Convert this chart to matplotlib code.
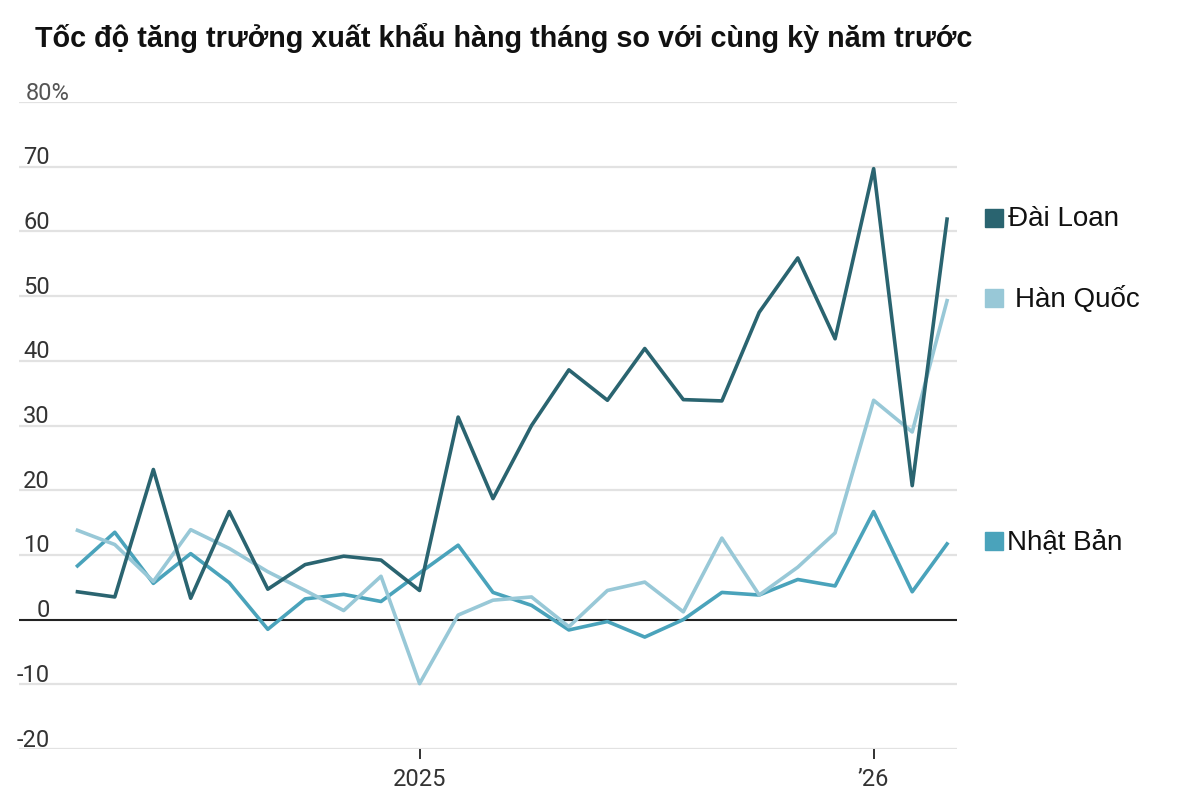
import matplotlib
matplotlib.use("Agg")
import matplotlib.pyplot as plt
import pandas as pd
import datetime as dt

# monthly, Apr 2024 .. Mar 2026
months = pd.date_range("2024-04-01", periods=24, freq="MS")

dai_loan = [4.3, 3.5, 23.2, 3.3, 16.7, 4.7, 8.5, 9.8, 9.2, 4.5,
            31.3, 18.7, 30.0, 38.6, 33.9, 41.9, 34.0, 33.8, 47.5, 55.9,
            43.4, 69.7, 20.7, 61.9]
han_quoc = [13.8, 11.6, 5.9, 13.9, 11.0, 7.4, 4.5, 1.4, 6.7, -9.9,
            0.7, 3.0, 3.5, -1.1, 4.5, 5.8, 1.2, 12.6, 3.8, 8.1,
            13.4, 33.9, 29.0, 49.3]
nhat_ban = [8.3, 13.5, 5.6, 10.2, 5.7, -1.5, 3.2, 3.9, 2.8, 7.2,
            11.5, 4.2, 2.2, -1.6, -0.3, -2.7, 0.0, 4.2, 3.8, 6.2,
            5.2, 16.7, 4.3, 11.7]

series = [
    ("Đài Loan", dai_loan, "#2a6470"),
    ("Hàn Quốc", han_quoc, "#98c8d7"),
    ("Nhật Bản", nhat_ban, "#4aa3bb"),
]
y_ticks = [-20, -10, 0, 10, 20, 30, 40, 50, 60, 70, 80]
y_labels = ["-20", "-10", "0", "10", "20", "30", "40", "50", "60", "70", "80%"]
x_ticks = [dt.datetime(2025, 1, 1), dt.datetime(2026, 1, 1)]
x_labels = ["2025", "\u201926"]

tick_font = ["Roboto", "DejaVu Sans"]
helv = ["Liberation Sans", "DejaVu Sans"]

fig = plt.figure(figsize=(12, 8.12), dpi=100)
ax = fig.add_axes([19 / 1200, 1 - 750 / 812, (957 - 19) / 1200, (750 - 103) / 812])

for val in y_ticks:
    if val == 0:
        continue
    ax.axhline(val, color="#e2e2e2", lw=1.6, zorder=1)
ax.axhline(0, color="#222222", lw=1.5, zorder=2)

for name, vals, col in series[::-1]:
    ax.plot(months, vals, color=col, lw=2.6, zorder=3)

ax.set_ylim(-20, 80)
ax.set_xlim(dt.datetime(2024, 2, 14), dt.datetime(2026, 3, 9))

for s in ax.spines.values():
    s.set_visible(False)
ax.set_yticks([])
ax.set_xticks(x_ticks)
ax.set_xticklabels(x_labels, family=tick_font, fontsize=17, color="#333333")
ax.tick_params(axis="x", length=7, width=1.3, color="#222222", pad=6)

# y labels sit just above the gridlines
for val, lab in zip(y_ticks, y_labels):
    if lab.endswith("%"):
        ax.annotate(lab, xy=(7 / 938, val), xycoords=("axes fraction", "data"),
                    xytext=(0, 2.5), textcoords="offset points", ha="left", va="baseline",
                    family=tick_font, fontsize=17, color="#555555")
    else:
        ax.annotate(lab, xy=(31 / 938, val), xycoords=("axes fraction", "data"),
                    xytext=(0, 2.5), textcoords="offset points", ha="right", va="baseline",
                    family=tick_font, fontsize=17, color="#333333")

fig.text(35 / 1200, 1 - 38 / 812, "Tốc độ tăng trưởng xuất khẩu hàng tháng so với cùng kỳ năm trước",
         family=helv, fontweight="bold", fontsize=20.7,
         va="center", ha="left", color="#111111")

# legend labels on the right
legend_pos = [(219, 1008), (299, 1015), (542, 1007)]
for (name, vals, col), (py, tx) in zip(series, legend_pos):
    fig.patches.append(plt.Rectangle((985 / 1200, 1 - (py + 9) / 812), 18 / 1200, 18 / 812,
                                     transform=fig.transFigure, color=col))
    fig.text(tx / 1200, 1 - py / 812, name, family=helv,
             fontsize=20, va="center", ha="left", color="#111111")

fig.savefig("out.png", dpi=100, facecolor="white")
